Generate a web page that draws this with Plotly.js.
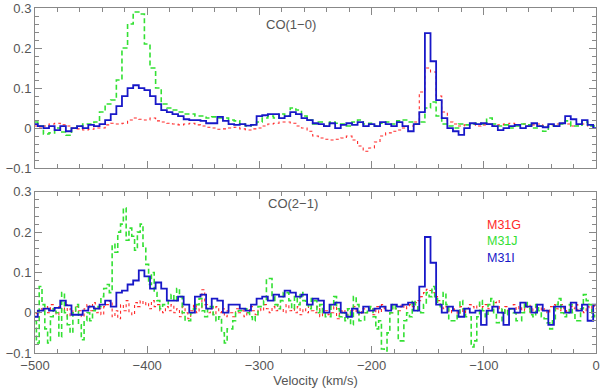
<!DOCTYPE html>
<html>
<head>
<meta charset="utf-8">
<script src="https://cdn.plot.ly/plotly-3.0.1.min.js"></script>
<style>
  html, body { margin: 0; padding: 0; background: #fff; }
  #chart { width: 600px; height: 388px; }
</style>
</head>
<body>
<div id="chart"></div>
<script>
// ---- CO(1-0), 5 km/s channels from -500 to 0 ----
let co10_M31I = [0.01, 0.005, 0.0, 0.005, -0.005, 0.005, -0.008, 0.0, 0.005, 0.0,
  0.008, 0.005, 0.01, 0.02, 0.035, 0.055, 0.08, 0.1, 0.107, 0.1,
  0.095, 0.08, 0.06, 0.045, 0.04, 0.035, 0.03, 0.022, 0.02, 0.02,
  0.018, 0.012, 0.012, 0.028, 0.018, 0.01, 0.008, 0.01, 0.006, 0.008,
  0.03, 0.032, 0.035, 0.035, 0.025, 0.03, 0.04, 0.035, 0.025, 0.02,
  0.012, 0.01, 0.005, 0.012, 0.0, 0.008, 0.012, 0.008, 0.015, 0.005,
  0.01, 0.005, 0.015, 0.01, 0.005, 0.015, 0.005, -0.008, 0.01, 0.04,
  0.237, 0.167, 0.07, 0.025, 0.0, -0.008, -0.017, 0.0, 0.012, 0.01,
  0.012, 0.01, 0.005, -0.005, 0.0, 0.005, 0.008, 0.0, 0.005, 0.012,
  0.005, 0.002, 0.01, 0.005, 0.012, 0.03, 0.022, 0.01, 0.02, 0.008,
  0.0];
let co10_M31J = [0.015, 0.005, -0.015, -0.012, 0.0, -0.01, -0.018, 0.0, 0.005, 0.01,
  0.01, 0.015, 0.04, 0.06, 0.07, 0.12, 0.2, 0.26, 0.29, 0.285,
  0.21, 0.15, 0.1, 0.06, 0.05, 0.045, 0.04, 0.035, 0.035, 0.03,
  0.03, 0.025, 0.028, 0.025, 0.025, 0.02, 0.018, 0.01, 0.005, 0.008,
  0.015, 0.025, 0.03, 0.025, 0.035, 0.03, 0.05, 0.045, 0.03, 0.02,
  0.01, 0.015, 0.005, 0.015, 0.012, 0.01, 0.005, 0.015, 0.02, 0.01,
  0.012, 0.005, 0.012, 0.015, 0.01, 0.018, 0.02, 0.015, 0.01, 0.015,
  0.05, 0.065, 0.03, 0.01, 0.005, 0.0, 0.01, 0.008, 0.01, 0.012,
  0.01, 0.025, 0.01, 0.005, 0.008, 0.0, 0.005, 0.01, 0.008, 0.0,
  0.005, -0.008, 0.005, 0.005, 0.01, 0.018, 0.005, 0.005, 0.015, 0.005,
  0.005];
let co10_M31G = [0.005, 0.0, 0.005, 0.01, 0.012, 0.008, 0.005, 0.0, -0.002, -0.005,
  -0.003, 0.0, 0.0, 0.008, 0.012, 0.01, 0.012, 0.02, 0.025, 0.022,
  0.02, 0.025, 0.018, 0.015, 0.012, 0.01, 0.008, 0.01, 0.012, 0.008,
  0.005, 0.002, 0.0, -0.003, -0.002, 0.0, 0.002, -0.002, -0.005, -0.002,
  0.0, 0.005, 0.01, 0.012, 0.015, 0.015, 0.012, 0.005, 0.0, -0.008,
  -0.02, -0.025, -0.028, -0.03, -0.028, -0.025, -0.02, -0.03, -0.045, -0.058,
  -0.05, -0.035, -0.02, -0.012, -0.008, -0.005, 0.0, 0.005, 0.015, 0.09,
  0.15, 0.14, 0.08, 0.04, 0.015, 0.01, 0.005, 0.008, 0.01, 0.005,
  0.008, 0.01, 0.005, 0.008, 0.01, 0.012, 0.008, 0.01, 0.005, 0.008,
  0.01, 0.005, 0.008, 0.01, 0.012, 0.01, 0.005, 0.008, 0.01, 0.005,
  0.003];

// ---- CO(2-1) ----
// M31I: 5 km/s channels
let co21_M31I = [-0.01, 0.005, 0.01, 0.005, 0.012, 0.03, 0.018, -0.005, -0.005, 0.005,
  0.015, 0.01, 0.02, 0.03, 0.015, 0.05, 0.055, 0.07, 0.08, 0.105,
  0.09, 0.06, 0.075, 0.06, 0.03, 0.03, 0.04, 0.02, 0.0, 0.04,
  0.045, 0.01, 0.035, 0.03, 0.0, 0.02, 0.02, 0.01, 0.005, 0.02,
  0.035, 0.04, 0.03, 0.045, 0.04, 0.055, 0.05, 0.04, 0.045, 0.02,
  0.035, 0.03, 0.0, 0.02, 0.025, 0.0, -0.01, 0.01, 0.0, 0.015,
  0.005, 0.01, 0.015, 0.005, 0.02, 0.015, 0.02, 0.025, 0.005, 0.065,
  0.188, 0.124, 0.02, 0.0, 0.015, 0.005, -0.01, 0.01, 0.0, 0.005,
  -0.03, 0.005, 0.015, 0.0, -0.03, 0.01, 0.0, 0.025, 0.015, 0.0,
  0.02, 0.005, -0.03, 0.015, 0.015, 0.0, 0.025, 0.005, 0.02, -0.02,
  0.02];
// M31J and M31G: 2.5 km/s channels
let co21_M31J = [-0.02, -0.075, 0.065, 0.02, -0.04, -0.075, -0.01, 0.01, 0.0, -0.06,
  0.05, 0.0, -0.03, -0.05, 0.0, 0.02, -0.03, -0.067, -0.02, 0.0,
  -0.02, 0.005, 0.01, 0.015, 0.04, 0.06, 0.07, 0.05, 0.17, 0.15,
  0.2, 0.22, 0.26, 0.18, 0.21, 0.19, 0.155, 0.2, 0.22, 0.165,
  0.12, 0.07, 0.1, 0.05, 0.03, 0.01, 0.02, 0.02, 0.03, 0.045,
  0.03, 0.06, 0.04, 0.0, -0.02, -0.02, 0.0, 0.01, 0.02, 0.035,
  0.005, -0.01, 0.01, 0.015, -0.005, -0.02, -0.01, -0.05, -0.075, -0.04,
  -0.04, -0.02, 0.0, 0.005, 0.01, 0.01, 0.0, -0.01, -0.02, -0.005,
  0.015, 0.015, 0.03, 0.085, 0.085, 0.04, 0.02, 0.01, 0.03, 0.05,
  0.05, 0.03, 0.01, 0.04, 0.02, 0.05, 0.03, 0.02, 0.01, 0.035,
  0.03, 0.0, 0.02, 0.0, -0.01, -0.01, 0.02, 0.04, 0.01, -0.01,
  0.0, -0.02, 0.01, -0.03, 0.04, 0.02, -0.02, -0.02, 0.0, 0.01,
  0.015, -0.01, -0.04, -0.02, -0.09, -0.095, -0.05, 0.0, 0.02, 0.01,
  -0.07, -0.07, -0.02, 0.0, -0.01, 0.03, 0.02, 0.005, 0.0, 0.02,
  0.05, 0.04, 0.065, 0.04, 0.02, 0.015, 0.05, 0.02, -0.02, -0.02,
  -0.02, 0.0, 0.03, 0.01, -0.01, -0.01, -0.085, -0.07, -0.01, 0.03,
  0.005, -0.01, 0.02, 0.035, 0.0, -0.025, -0.02, 0.01, -0.005, 0.005,
  0.01, 0.0, -0.02, -0.02, 0.0, 0.025, 0.01, -0.005, -0.01, 0.02,
  0.005, -0.01, -0.015, -0.025, -0.04, -0.02, 0.02, 0.035, 0.0, -0.01,
  0.0, 0.02, 0.0, -0.02, -0.02, 0.01, 0.045, 0.03, 0.02, -0.01,
  0.0];
let co21_M31G = [0.0, -0.01, 0.01, 0.005, 0.015, 0.0, 0.02, 0.01, -0.005, 0.015,
  0.005, 0.02, -0.01, 0.01, 0.0, 0.015, 0.005, -0.01, 0.01, 0.02,
  0.005, 0.025, 0.0, 0.01, -0.005, 0.015, 0.02, 0.03, -0.01, 0.005,
  -0.015, 0.02, 0.005, 0.03, 0.0, -0.005, 0.025, 0.015, 0.03, 0.02,
  0.025, 0.01, 0.03, 0.015, 0.02, 0.005, 0.0, 0.015, 0.005, 0.02,
  0.0, 0.01, -0.01, 0.015, 0.0, -0.015, 0.005, 0.02, 0.0, 0.01,
  0.057, 0.02, 0.0, 0.01, -0.005, 0.015, 0.0, 0.01, -0.01, 0.005,
  0.0, -0.01, 0.01, 0.0, 0.005, -0.01, 0.0, 0.015, 0.005, -0.005,
  0.01, 0.005, 0.02, 0.01, 0.0, 0.015, 0.005, 0.02, 0.01, 0.0,
  0.02, 0.005, 0.01, 0.0, 0.015, -0.005, 0.01, 0.0, 0.02, 0.005,
  0.0, 0.015, -0.01, 0.01, 0.005, -0.005, 0.0, 0.015, -0.015, 0.005,
  0.0, 0.01, -0.01, 0.005, 0.015, 0.0, -0.005, 0.01, 0.0, 0.005,
  0.01, -0.005, 0.015, 0.0, 0.02, 0.01, 0.005, 0.0, 0.015, 0.01,
  0.005, 0.02, 0.01, 0.015, 0.02, 0.015, 0.025, 0.03, 0.04, 0.05,
  0.058, 0.055, 0.05, 0.04, 0.03, 0.02, 0.01, 0.015, 0.0, 0.01,
  0.005, -0.01, 0.015, 0.0, 0.01, 0.02, 0.015, 0.01, 0.02, 0.005,
  0.015, 0.02, 0.01, 0.005, 0.025, 0.03, 0.01, 0.0, 0.015, 0.005,
  0.01, 0.02, 0.0, 0.015, 0.005, 0.01, 0.02, 0.0, 0.01, 0.015,
  0.02, 0.005, 0.01, 0.0, 0.015, 0.02, 0.01, 0.005, 0.02, 0.01,
  0.0, 0.015, 0.01, 0.02, 0.005, 0.01, 0.0, 0.015, 0.01, 0.02,
  0.01];

let sources = ['M31G', 'M31J', 'M31I'];
let colors = {M31G: '#ff2a2a', M31J: '#33e033', M31I: '#1818c8'};

// velocity channels
function channels(n){
  let v = [];
  let dv = 500 / (n - 1);
  for (let i = 0; i < n; i++) v.push(-500 + i * dv);
  return v;
}

function trace(y, name, xa, ya){
  let st = {
    M31G: {color: colors.M31G, width: 1.1, dash: 'dot'},
    M31J: {color: colors.M31J, width: 1.6, dash: '5px,3px'},
    M31I: {color: colors.M31I, width: 1.8, dash: 'solid'}
  }[name];
  return {x: channels(y.length), y: y, type: 'scatter', mode: 'lines', name: name,
    xaxis: xa, yaxis: ya, line: Object.assign({shape: 'hvh'}, st), showlegend: false};
}

let data = [
  trace(co10_M31G, 'M31G', 'x', 'y'),
  trace(co10_M31J, 'M31J', 'x', 'y'),
  trace(co10_M31I, 'M31I', 'x', 'y'),
  trace(co21_M31G, 'M31G', 'x2', 'y2'),
  trace(co21_M31J, 'M31J', 'x2', 'y2'),
  trace(co21_M31I, 'M31I', 'x2', 'y2')
];

let grey = '#555';
let axFont = {family: 'Liberation Sans, Arial, sans-serif', size: 13, color: grey};

function xax(labels, dom){
  return {range: [-500, 0], dtick: 100, tick0: 0, ticks: 'inside', ticklen: 7, tickcolor: '#888',
    showline: true, linecolor: '#888', linewidth: 1, mirror: 'ticks', showgrid: false, zeroline: false,
    showticklabels: labels, tickfont: axFont, anchor: dom,
    minor: {dtick: 20, ticks: 'inside', ticklen: 4, tickcolor: '#888'}};
}
function yax(domain, anc){
  return {range: [-0.1, 0.3], dtick: 0.1, tick0: 0, ticks: 'inside', ticklen: 7, tickcolor: '#888',
    showline: true, linecolor: '#888', linewidth: 1, mirror: 'ticks', showgrid: false, zeroline: false,
    tickfont: axFont, domain: domain, anchor: anc,
    minor: {dtick: 0.02, ticks: 'inside', ticklen: 4, tickcolor: '#888'}};
}

// legend as one block of coloured lines
let legText = sources.map(function(s){
  return '<span style="color:' + colors[s] + '">' + s + '</span>';
}).join('<br>');

let layout = {
  width: 600, height: 388,
  margin: {l: 35, r: 4, t: 8, b: 35},
  paper_bgcolor: '#fff', plot_bgcolor: '#fff',
  xaxis: xax(false, 'y'),
  yaxis: yax([0.536, 1], 'x'),
  xaxis2: Object.assign(xax(true, 'y2'), {title: {text: 'Velocity (km/s)', font: axFont, standoff: 1}}),
  yaxis2: yax([0, 0.467], 'x2'),
  annotations: [
    {xref: 'x', yref: 'y', x: -272, y: 0.26, text: 'CO(1−0)', showarrow: false, font: {family: axFont.family, size: 13, color: grey}},
    {xref: 'x2', yref: 'y2', x: -270, y: 0.27, text: 'CO(2−1)', showarrow: false, font: {family: axFont.family, size: 13, color: grey}},
    {xref: 'x2', yref: 'y2', x: -99, y: 0.176, xanchor: 'left', yanchor: 'middle', align: 'left',
      text: legText, showarrow: false, font: {family: axFont.family, size: 12.5, color: grey}}
  ]
};

Plotly.newPlot('chart', data, layout, {displayModeBar: false, staticPlot: true});
</script>
</body>
</html>
